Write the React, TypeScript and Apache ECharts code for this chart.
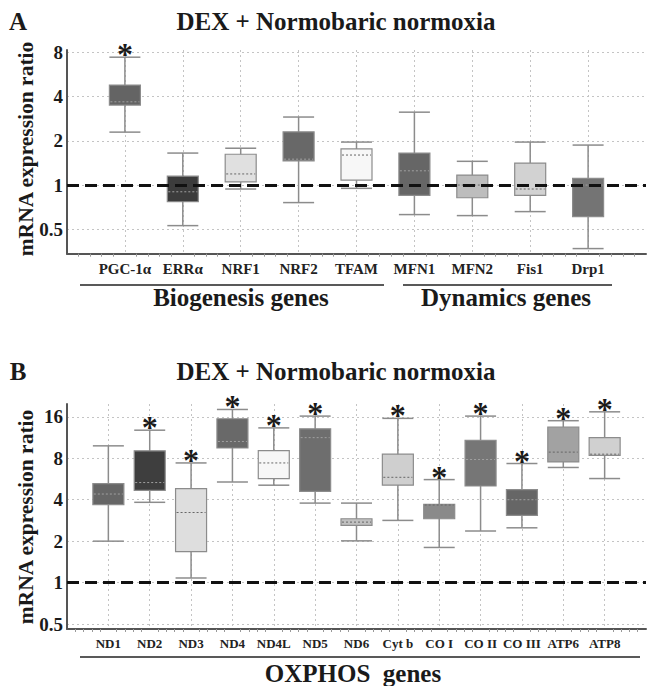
import React, { useEffect, useRef } from "react";
import * as echarts from "echarts";

// ---------- Panel A data ----------
const genesA = ["PGC-1α", "ERRα", "NRF1", "NRF2", "TFAM", "MFN1", "MFN2", "Fis1", "Drp1"];
const minA = [2.29, 0.53, 0.94, 0.76, 0.95, 0.63, 0.62, 0.66, 0.37];
const q1A = [3.5, 0.77, 1.05, 1.46, 1.08, 0.85, 0.82, 0.85, 0.61];
const medA = [3.68, 0.9, 1.19, 1.5, 1.6, 1.25, 1.0, 0.94, 1.0];
const q3A = [4.78, 1.15, 1.62, 2.3, 1.76, 1.65, 1.17, 1.41, 1.11];
const maxA = [7.4, 1.65, 1.78, 2.9, 1.96, 3.13, 1.45, 1.96, 1.87];
const sigA = [true, false, false, false, false, false, false, false, false];

// ---------- Panel B data ----------
const genesB = ["ND1", "ND2", "ND3", "ND4", "ND4L", "ND5", "ND6", "Cyt b", "CO I", "CO II", "CO III", "ATP6", "ATP8"];
const minB = [2.0, 3.83, 1.08, 5.38, 5.1, 3.78, 2.01, 2.83, 1.8, 2.37, 2.5, 6.86, 5.7];
const q1B = [3.68, 4.68, 1.68, 9.5, 5.7, 4.6, 2.6, 5.1, 2.91, 5.03, 3.08, 7.53, 8.4];
const medB = [4.4, 5.33, 3.23, 10.6, 7.4, 11.3, 2.75, 5.82, 3.66, 7.84, 4.0, 8.87, 8.57];
const q3B = [5.24, 9.06, 4.82, 15.5, 9.1, 13.1, 2.91, 8.57, 3.7, 10.8, 4.73, 13.5, 11.3];
const maxB = [9.85, 12.8, 7.4, 18.1, 13.3, 16.2, 3.78, 15.6, 5.6, 16.2, 7.33, 15.0, 17.4];
const sigB = [false, true, true, true, true, true, false, true, true, true, true, true, true];

const titleText = "DEX + Normobaric normoxia";
const yName = "mRNA expression ratio";
const referenceLevel = 1;

// ---------- styles ----------
const fillsA = ["#646464", "#3c3c3c", "#e0e0e0", "#686868", "#f7f7f7", "#666666", "#bdbdbd", "#d2d2d2", "#747474"];
const fillsB = ["#666666", "#3e3e3e", "#dedede", "#696969", "#f7f7f7", "#6e6e6e", "#c0c0c0", "#cfcfcf", "#8a8a8a", "#767676", "#666666", "#a2a2a2", "#d0d0d0"];
const SERIF = '"Liberation Serif", "Times New Roman", serif';
const BOX_W = 31;

function lum(hex: string) {
  const n = parseInt(hex.slice(1), 16);
  return (((n >> 16) & 255) + ((n >> 8) & 255) + (n & 255)) / (3 * 255);
}

function rows(mins: number[], q1s: number[], meds: number[], q3s: number[], maxs: number[], sig: boolean[]) {
  return mins.map((_, i) => [i + 1, mins[i], q1s[i], meds[i], q3s[i], maxs[i], sig[i] ? 1 : 0]);
}

function makeRender(fills: string[]) {
  return (params: any, api: any) => {
    const x = api.value(0);
    const pMin = api.coord([x, api.value(1)]);
    const pQ1 = api.coord([x, api.value(2)]);
    const pMed = api.coord([x, api.value(3)]);
    const pQ3 = api.coord([x, api.value(4)]);
    const pMax = api.coord([x, api.value(5)]);
    const cx = pMin[0];
    const h = BOX_W / 2;
    const fill = fills[params.dataIndex];
    const dark = lum(fill) < 0.5;
    const wc = "#8c8c8c";
    const children: any[] = [
      { type: "line", shape: { x1: cx, y1: pMax[1], x2: cx, y2: pMin[1] }, style: { stroke: wc, lineWidth: 1.5 } },
      { type: "line", shape: { x1: cx - h, y1: pMax[1], x2: cx + h, y2: pMax[1] }, style: { stroke: wc, lineWidth: 1.5 } },
      { type: "line", shape: { x1: cx - h, y1: pMin[1], x2: cx + h, y2: pMin[1] }, style: { stroke: wc, lineWidth: 1.5 } },
      {
        type: "rect",
        shape: { x: cx - h, y: pQ3[1], width: BOX_W, height: pQ1[1] - pQ3[1] },
        style: { fill, stroke: "#8c8c8c", lineWidth: 1.2 },
      },
      {
        type: "line",
        shape: { x1: cx - h + 1, y1: pMed[1], x2: cx + h - 1, y2: pMed[1] },
        style: { stroke: dark ? "#a0a0a0" : "#666666", lineWidth: 1, lineDash: [2, 2] },
      },
    ];
    if (api.value(6)) {
      children.push({
        type: "text",
        x: cx,
        y: pMax[1] - 3,
        style: { text: "*", font: `bold 32px ${SERIF}`, align: "center", verticalAlign: "middle", fill: "#1a1a1a" },
      });
    }
    return { type: "group", children };
  };
}

function xAxisFor(gridIndex: number, names: string[], fontSize: number, minorSplit: number) {
  return {
    gridIndex,
    type: "value",
    min: 0,
    max: names.length + 1,
    interval: 1,
    axisLine: { show: true, lineStyle: { color: "#555", width: 2 } },
    axisTick: { show: false },
    minorTick: { show: true, splitNumber: minorSplit, length: 3, lineStyle: { color: "#999" } },
    splitLine: { show: true, showMinLine: false, showMaxLine: false, lineStyle: { color: "#c4c4c4", type: [2, 3], width: 1 } },
    axisLabel: {
      formatter: (v: number) => names[Math.round(v) - 1] ?? "",
      fontFamily: SERIF,
      fontWeight: "bold",
      fontSize,
      color: "#222",
      margin: 8,
    },
  };
}

function yAxisFor(gridIndex: number, min: number, max: number) {
  return {
    gridIndex,
    type: "log",
    logBase: 2,
    min,
    max,
    axisLine: { show: true, lineStyle: { color: "#555", width: 2 } },
    axisTick: { show: false },
    splitLine: { show: true, showMinLine: false, showMaxLine: false, lineStyle: { color: "#c4c4c4", type: [2, 3], width: 1 } },
    axisLabel: {
      formatter: (v: number) => {
        const l = Math.log2(v);
        if (Math.abs(l - Math.round(l)) > 0.01) return "";
        return String(Math.pow(2, Math.round(l)));
      },
      fontFamily: SERIF,
      fontWeight: "bold",
      fontSize: 19,
      color: "#1a1a1a",
      margin: 4,
    },
  };
}

function series(idx: number, data: number[][], fills: string[]) {
  return {
    type: "custom",
    xAxisIndex: idx,
    yAxisIndex: idx,
    clip: false,
    dimensions: ["x", "min", "q1", "med", "q3", "max", "sig"],
    encode: { x: 0, y: [1, 2, 3, 4, 5] },
    data,
    renderItem: makeRender(fills),
    markLine: {
      silent: true,
      symbol: ["none", "none"],
      label: { show: false },
      lineStyle: { color: "#111", width: 3, type: [12, 6] },
      data: [{ yAxis: referenceLevel }],
    },
  };
}

function txt(text: string, x: number, y: number, size: number, extra: any = {}) {
  return {
    type: "text",
    x,
    y,
    ...extra,
    style: { text, font: `bold ${size}px ${SERIF}`, fill: "#1a1a1a", align: "center", verticalAlign: "middle" },
  };
}

function hline(x1: number, x2: number, y: number) {
  return { type: "line", shape: { x1, y1: y, x2, y2: y }, style: { stroke: "#222", lineWidth: 1.5 } };
}

export default function App() {
  const ref = useRef<HTMLDivElement>(null);
  useEffect(() => {
    document.body.style.margin = "0";
    if (!ref.current) return;
    const chart = echarts.init(ref.current, undefined, { renderer: "svg" });
    const option: any = {
      animation: false,
      backgroundColor: "#ffffff",
      grid: [
        { left: 67, right: 0, top: 50, height: 203.7 },
        { left: 67, right: 0, top: 404, height: 225 },
      ],
      xAxis: [xAxisFor(0, genesA, 15, 5), xAxisFor(1, genesB, 13, 5)],
      yAxis: [yAxisFor(0, Math.pow(2, -1.55), Math.pow(2, 3.05)), yAxisFor(1, Math.pow(2, -1.12), Math.pow(2, 4.31))],
      series: [
        series(0, rows(minA, q1A, medA, q3A, maxA, sigA), fillsA),
        series(1, rows(minB, q1B, medB, q3B, maxB, sigB), fillsB),
      ],
      graphic: [
        txt("A", 18, 21, 25),
        txt(titleText, 336, 21, 25),
        txt(yName, 26, 149, 21.5, { rotation: Math.PI / 2 }),
        hline(80, 384, 285),
        hline(403, 612, 285),
        txt("Biogenesis genes", 241, 297, 25),
        txt("Dynamics genes", 506, 297, 25),
        txt("B", 18, 371, 25),
        txt(titleText, 336, 371, 25),
        txt(yName, 26, 517, 21.5, { rotation: Math.PI / 2 }),
        hline(80, 640, 657),
        txt("OXPHOS  genes", 353, 673, 25),
      ],
    };
    chart.setOption(option);
    return () => chart.dispose();
  }, []);
  return <div ref={ref} style={{ width: 649, height: 686 }} />;
}
